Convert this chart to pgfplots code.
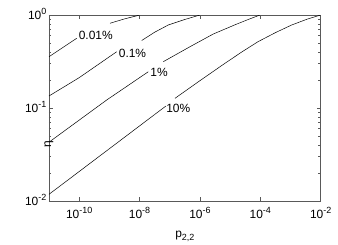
\documentclass[border=0pt]{standalone}
\usepackage{fontspec}
\setmainfont{Liberation Sans}
\usepackage{pgfplots}
\pgfplotsset{compat=1.18}
\newcommand\sups[1]{\raisebox{5bp}{\fontsize{9}{9}\selectfont #1}}
\newcommand\subs[1]{\raisebox{-3bp}{\fontsize{9}{9}\selectfont #1}}
\begin{document}
\begin{tikzpicture}
\begin{axis}[
  at={(0,0)}, anchor=south west,
  scale only axis, width=271.7bp, height=186bp,
  xmode=log, ymode=log,
  xmin=1e-11, xmax=1e-2, ymin=1e-2, ymax=1,
  xtick={1e-10,1e-8,1e-6,1e-4,1e-2},
  xticklabels={10\sups{-10},10\sups{-8},10\sups{-6},10\sups{-4},10\sups{-2}},
  minor xtick={},
  ytick={1e-2,1e-1,1},
  yticklabels={10\sups{-2},10\sups{-1},10\sups{0}},
  minor ytick={0.02,0.03,0.04,0.05,0.06,0.07,0.08,0.09,0.2,0.3,0.4,0.5,0.6,0.7,0.8,0.9},
  tick align=inside,
  major tick length=4bp, minor tick length=2.5bp,
  axis line style={black!65, line width=0.9bp},
  every tick/.style={black!65, line width=0.6bp},
  ticklabel style={font=\fontsize{12}{13}\selectfont},
  xticklabel style={anchor=base, inner sep=0pt, yshift=-17bp},
  yticklabel style={anchor=base east, inner sep=0pt, xshift=-2.5bp, yshift=-4.5bp},
  xlabel={p\subs{2,2}}, ylabel={η},
  label style={font=\fontsize{12}{13}\selectfont},
  xlabel style={at={(axis description cs:0.5,0)}, anchor=base, inner sep=0pt, yshift=-36.5bp},
  ylabel style={at={(axis description cs:0,0.5)}, anchor=center, rotate=0, xshift=-36bp},
  clip=true,
]
% 10%
\addplot[black, line width=0.5pt] coordinates {(1e-11,0.0118) (1e-9,0.0365) (7.50e-8,0.1052)};
\addplot[black, line width=0.5pt] coordinates {(1.49e-7,0.1271) (1e-6,0.1968) (6.76e-6,0.3027) (2.51e-5,0.403) (8.38e-5,0.5164) (3.16e-4,0.646) (1.09e-3,0.7806) (3.55e-3,0.902) (1e-2,1)};
% 1%
\addplot[black, line width=0.5pt] coordinates {(1e-11,0.0429) (8.15e-10,0.1219) (1.95e-8,0.2455)};
\addplot[black, line width=0.5pt] coordinates {(6.11e-8,0.3148) (4.68e-7,0.456) (2.75e-6,0.624) (1.58e-5,0.794) (3.98e-5,0.895) (9.75e-5,1)};
% 0.1%
\addplot[black, line width=0.5pt] coordinates {(1e-11,0.1346) (1e-10,0.212) (1.75e-9,0.403)};
\addplot[black, line width=0.5pt] coordinates {(1.18e-8,0.532) (3.16e-8,0.653) (8.95e-8,0.781) (3.16e-7,0.895) (1e-6,1)};
% 0.01%
\addplot[black, line width=0.5pt] coordinates {(1e-11,0.356) (8.28e-11,0.5615)};
\addplot[black, line width=0.5pt] coordinates {(1.05e-9,0.815) (3.16e-9,0.908) (1.03e-8,1)};
\node[font=\fontsize{12}{13}\selectfont, inner sep=0pt] at (axis cs:3.55e-10,0.597) {0.01\%};
\node[font=\fontsize{12}{13}\selectfont, inner sep=0pt] at (axis cs:5.83e-9,0.387) {0.1\%};
\node[font=\fontsize{12}{13}\selectfont, inner sep=0pt] at (axis cs:4.41e-8,0.241) {1\%};
\node[font=\fontsize{12}{13}\selectfont, inner sep=0pt] at (axis cs:1.92e-7,0.0993) {10\%};
\end{axis}
\pgfresetboundingbox
\useasboundingbox (-49bp,-44bp) rectangle (289bp,201bp);
\end{tikzpicture}
\end{document}
